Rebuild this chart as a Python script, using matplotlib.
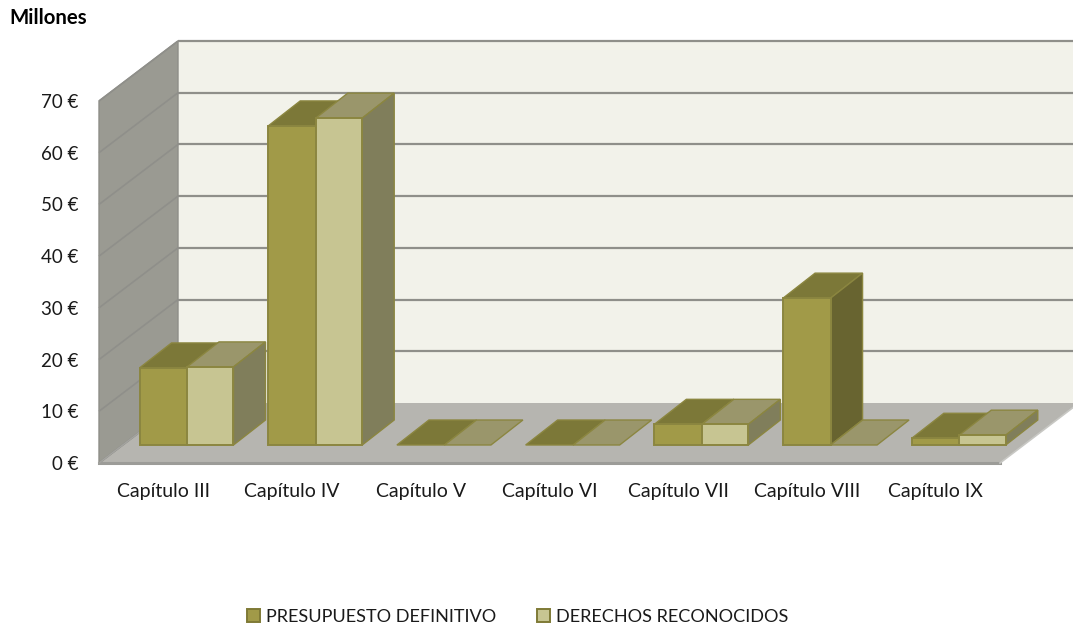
import matplotlib
matplotlib.use("Agg")
import matplotlib.pyplot as plt
from matplotlib.patches import Polygon, Patch

plt.rcParams['font.family'] = ['Lato', 'DejaVu Sans']

categories = ["Capítulo III", "Capítulo IV", "Capítulo V", "Capítulo VI",
              "Capítulo VII", "Capítulo VIII", "Capítulo IX"]
presupuesto = [14.9, 61.7, 0.0, 0.0, 4.0, 28.4, 1.3]
derechos = [15.1, 63.2, 0.0, 0.0, 4.0, 0.0, 1.9]
y_ticks = [0, 10, 20, 30, 40, 50, 60, 70]
y_labels = [f"{v} €" for v in y_ticks]

W, H = 1073, 628
fig = plt.figure(figsize=(W / 100, H / 100), dpi=100, facecolor="white")
ax = fig.add_axes([99 / W, (H - 463) / H, 901 / W, 362 / H])
ax.set_xlim(0, 7)
ax.set_ylim(0, 70)
ax.set_facecolor("none")
for s in ax.spines.values():
    s.set_visible(False)

UX = 901 / 7
UY = 362 / 70
WALL_DX, WALL_DY = 79 / UX, 60 / UY
BAR_DX, BAR_DY = 32 / UX, 25 / UY
BASE_Y = 18 / UY
BAR_START = 40.5 / UX
BAR_W1 = 47.5 / UX
BAR_W2 = 46.5 / UX
EDGE = "#8B8640"


def poly(pts, fc, ec="none", lw=0.0, z=1):
    ax.add_patch(Polygon(pts, closed=True, fc=fc, ec=ec, lw=lw, zorder=z,
                         clip_on=False, joinstyle="miter"))


# walls and floor
poly([(WALL_DX, WALL_DY), (7 + WALL_DX, WALL_DY), (7 + WALL_DX, 70 + WALL_DY), (WALL_DX, 70 + WALL_DY)], "#F2F2EA")
poly([(0, 0), (WALL_DX, WALL_DY), (WALL_DX, 70 + WALL_DY), (0, 70)], "#9A9A92", "#8E8E88", 1.0, 1.2)
poly([(0, 0), (7, 0), (7 + WALL_DX, WALL_DY), (WALL_DX, WALL_DY)], "#B6B5B0", z=1.1)

GRID = "#8F8F8A"
for v in y_ticks:
    line_kw = dict(color=GRID, lw=1.6, clip_on=False, zorder=1.5, solid_capstyle="butt")
    ax.plot([0, WALL_DX], [v, v + WALL_DY], **{**line_kw, "lw": 1.2})
    if v > 0:
        ax.plot([WALL_DX, 7 + WALL_DX], [v + WALL_DY, v + WALL_DY], **line_kw)
ax.plot([0, 7], [0, 0], color="#9C9C98", lw=2.2, clip_on=False, zorder=1.5)
ax.plot([7, 7 + WALL_DX], [0, WALL_DY], color="#C8C8C4", lw=1.2, clip_on=False, zorder=1.5)
ax.plot([0, WALL_DX], [0, WALL_DY], color="#A4A4A0", lw=1.0, clip_on=False, zorder=1.5)


def bar(x0, w, v, front, top, side, z):
    b = BASE_Y
    t = b + v
    poly([(x0, t), (x0 + w, t), (x0 + w + BAR_DX, t + BAR_DY), (x0 + BAR_DX, t + BAR_DY)], top, EDGE, 1.0, z)
    if v > 0:
        poly([(x0 + w, b), (x0 + w + BAR_DX, b + BAR_DY), (x0 + w + BAR_DX, t + BAR_DY), (x0 + w, t)], side, EDGE, 1.0, z)
        poly([(x0, b), (x0 + w, b), (x0 + w, t), (x0, t)], front, EDGE, 1.4, z + 0.01)


for i, (a, d) in enumerate(zip(presupuesto, derechos)):
    x1 = i + BAR_START
    bar(x1, BAR_W1, a, "#A19A48", "#7C7838", "#686430", 2 + i * 0.1)
    bar(x1 + BAR_W1, BAR_W2, d, "#C7C592", "#9A966B", "#807E5B", 2.05 + i * 0.1)

ax.set_xticks([i + 0.5 for i in range(len(categories))])
ax.set_xticklabels(categories, fontsize=14, color="#1a1a1a")
ax.set_yticks(y_ticks)
ax.set_yticklabels(y_labels, fontsize=13.5, color="#1a1a1a")
ax.tick_params(axis="x", length=0, pad=14.5)
ax.tick_params(axis="y", length=0, pad=15)

fig.text(9 / W, 1 - 18 / H, "Millones", fontsize=14.7, fontweight="bold",
         color="black", va="center", ha="left")

handles = [Patch(fc="#A19A48", ec="#7F7A36", lw=1.4, label="PRESUPUESTO DEFINITIVO"),
           Patch(fc="#C7C592", ec="#7F7A36", lw=1.4, label="DERECHOS RECONOCIDOS")]
fig.legend(handles=handles, loc="center", bbox_to_anchor=(517.5 / W, 1 - 617 / H), ncol=2,
           frameon=False, fontsize=13.1, handlelength=0.72, handleheight=0.72,
           handletextpad=0.33, columnspacing=2.25, labelcolor="#1a1a1a")

fig.savefig("out.png", dpi=100)
